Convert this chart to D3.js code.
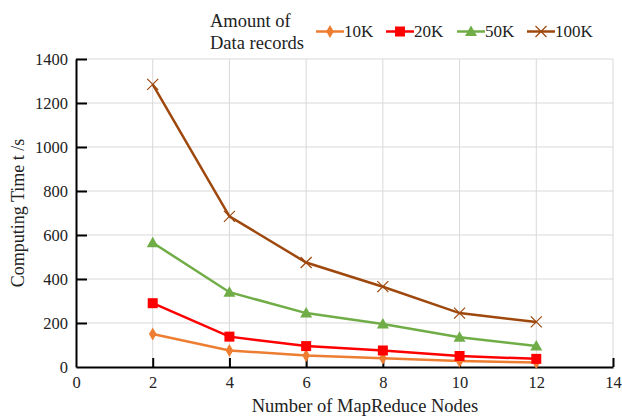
<!DOCTYPE html>
<html>
<head>
<meta charset="utf-8">
<script src="https://cdn.jsdelivr.net/npm/d3@7"></script>
<style>
  body { margin: 0; background: #fff; }
  svg text { font-family: "Liberation Serif", "Times New Roman", serif; fill: #222; }
</style>
</head>
<body>
<div id="chart"></div>
<script>
var nodes = [2, 4, 6, 8, 10, 12];
var time10K = [150, 75, 52, 40, 27, 20];
var time20K = [290, 138, 95, 75, 50, 37];
var time50K = [565, 340, 245, 195, 135, 95];
var time100K = [1285, 685, 475, 365, 245, 205];
var seriesNames = ["10K", "20K", "50K", "100K"];
var xTicks = [0, 2, 4, 6, 8, 10, 12, 14];
var yTicks = [0, 200, 400, 600, 800, 1000, 1200, 1400];

var series = [
  {name: "10K", values: time10K, color: "#ED7D31", marker: "diamond"},
  {name: "20K", values: time20K, color: "#FF0000", marker: "square"},
  {name: "50K", values: time50K, color: "#70AD47", marker: "triangle"},
  {name: "100K", values: time100K, color: "#9E480E", marker: "cross"}
];

var W = 622, H = 418;
var margin = {top: 59, right: 9, bottom: 51, left: 76},
    width = W - margin.left - margin.right,
    height = H - margin.top - margin.bottom;

var svg = d3.select("#chart").append("svg")
    .attr("width", W)
    .attr("height", H)
    .attr("font-family", "Liberation Serif, serif");

var g = svg.append("g")
    .attr("transform", "translate(" + margin.left + "," + margin.top + ")");

var x = d3.scaleLinear().domain([0, 14]).range([0, width]);
var y = d3.scaleLinear().domain([0, 1400]).range([height, 0]);

// grid
g.selectAll(".hgrid")
    .data(yTicks.slice(1))
    .enter().append("line")
    .attr("x1", 0).attr("x2", width)
    .attr("y1", function(d) { return y(d); })
    .attr("y2", function(d) { return y(d); })
    .attr("stroke", "#d9d9d9").attr("stroke-width", 1);

g.selectAll(".vgrid")
    .data(xTicks.slice(1))
    .enter().append("line")
    .attr("x1", function(d) { return x(d); })
    .attr("x2", function(d) { return x(d); })
    .attr("y1", 0).attr("y2", height)
    .attr("stroke", "#d9d9d9").attr("stroke-width", 1);

// axes
var xAxis = d3.axisBottom(x).tickValues(xTicks).tickFormat(d3.format("d"))
    .tickSizeInner(-9).tickSizeOuter(0).tickPadding(9);
var yAxis = d3.axisLeft(y).tickValues(yTicks).tickFormat(d3.format("d"))
    .tickSizeInner(-11).tickSizeOuter(0).tickPadding(8);

var gx = g.append("g")
    .attr("transform", "translate(0," + height + ")")
    .call(xAxis);
var gy = g.append("g").call(yAxis);

[gx, gy].forEach(function(a) {
  a.attr("font-family", null).attr("font-size", null);
  a.select(".domain").attr("stroke", "#000").attr("stroke-width", 2);
  a.selectAll(".tick line").attr("stroke", "#000").attr("stroke-width", 2);
  a.selectAll(".tick text")
      .attr("font-family", "Liberation Serif, serif")
      .attr("font-size", "16.5px")
      .attr("fill", "#222");
});
gy.selectAll(".tick").filter(function(d) { return d === 0; }).select("line").remove();
gx.selectAll(".tick").filter(function(d) { return d === 0; }).select("line").remove();

// axis titles
svg.append("text")
    .attr("x", 365)
    .attr("y", 412)
    .attr("text-anchor", "middle")
    .attr("font-size", "18.5px")
    .text("Number of MapReduce  Nodes");

svg.append("text")
    .attr("transform", "translate(24,213) rotate(-90)")
    .attr("text-anchor", "middle")
    .attr("font-size", "18px")
    .text("Computing Time t /s");

function drawMarker(sel, type, color) {
  if (type === "diamond") {
    sel.append("path").attr("d", d3.symbol().type(d3.symbolDiamond).size(50)())
        .attr("fill", color);
  } else if (type === "square") {
    sel.append("rect").attr("x", -5).attr("y", -5).attr("width", 10).attr("height", 10)
        .attr("fill", color);
  } else if (type === "triangle") {
    sel.append("path").attr("d", "M0,-6L6,4.5L-6,4.5Z").attr("fill", color);
  } else {
    sel.append("path").attr("d", "M-5.5,-5.5L5.5,5.5M-5.5,5.5L5.5,-5.5")
        .attr("stroke", color).attr("stroke-width", 1.2).attr("fill", "none");
  }
}

var line = d3.line()
    .x(function(d, i) { return x(nodes[i]); })
    .y(function(d) { return y(d); });

series.forEach(function(s) {
  g.append("path")
      .datum(s.values)
      .attr("d", line)
      .attr("fill", "none")
      .attr("stroke", s.color)
      .attr("stroke-width", 2.5);
  s.values.forEach(function(v, i) {
    var m = g.append("g").attr("transform", "translate(" + x(nodes[i]) + "," + y(v) + ")");
    drawMarker(m, s.marker, s.color);
  });
});

// legend
svg.append("text").attr("x", 210).attr("y", 27).attr("font-size", "18.5px").text("Amount of");
svg.append("text").attr("x", 210).attr("y", 49).attr("font-size", "18.5px").text("Data records");

var legendX = [316, 386, 457, 527];
series.forEach(function(s, i) {
  var lg = svg.append("g").attr("transform", "translate(" + legendX[i] + ",31.5)");
  lg.append("line").attr("x1", 0).attr("x2", 28).attr("y1", 0).attr("y2", 0)
      .attr("stroke", s.color).attr("stroke-width", 2.5);
  var m = lg.append("g").attr("transform", "translate(14,0)");
  drawMarker(m, s.marker, s.color);
  lg.append("text").attr("x", 28).attr("y", 5.5).attr("font-size", "17px").text(seriesNames[i]);
});
</script>
</body>
</html>
